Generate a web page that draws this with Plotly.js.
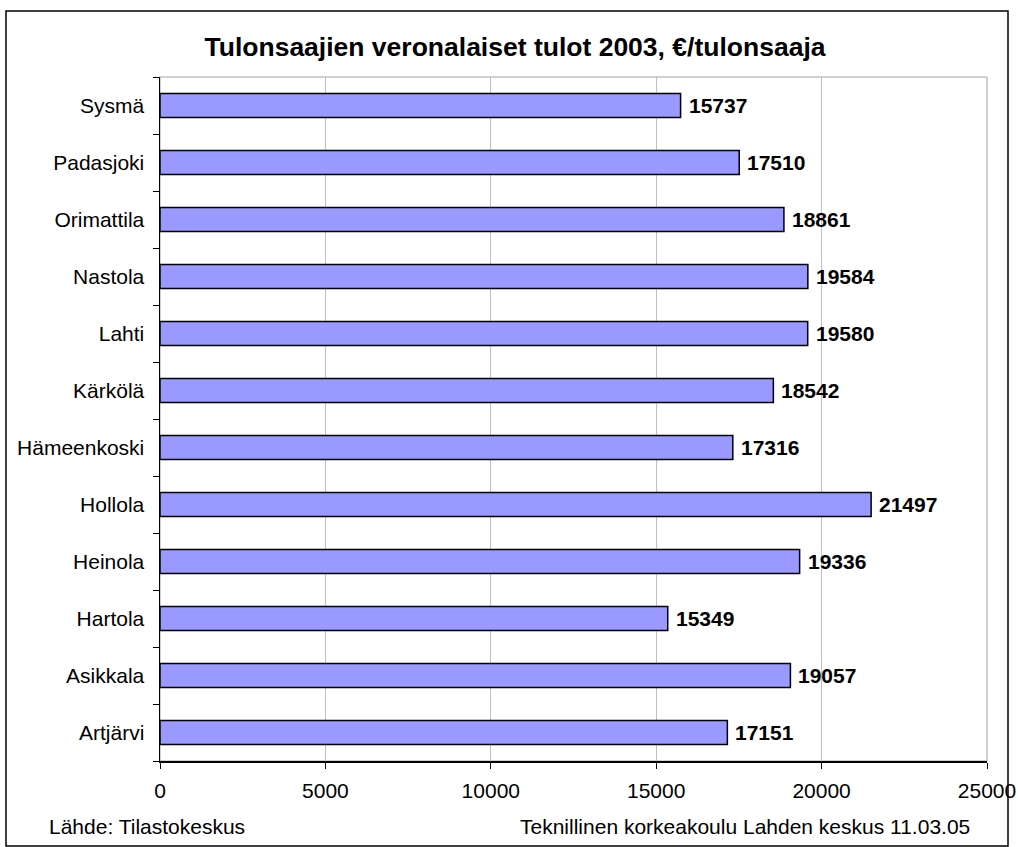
<!DOCTYPE html>
<html>
<head>
<meta charset="utf-8">
<script src="https://cdn.plot.ly/plotly-3.0.1.min.js"></script>
<style>html,body{margin:0;padding:0;background:#fff;}#chart{width:1018px;height:847px;}</style>
</head>
<body>
<div id="chart"></div>
<script>
const categories = ["Artjärvi","Asikkala","Hartola","Heinola","Hollola","Hämeenkoski","Kärkölä","Lahti","Nastola","Orimattila","Padasjoki","Sysmä"];
const values = [17151,19057,15349,19336,21497,17316,18542,19580,19584,18861,17510,15737];
const xTicks = [0,5000,10000,15000,20000,25000];

const FONT = "Liberation Sans, Arial, sans-serif";

const trace = {
  type: "bar",
  orientation: "h",
  y: categories,
  x: values,
  marker: {color: "#9999FF", line: {color: "#000000", width: 1.5}},
  hoverinfo: "none"
};

const labelAnns = categories.map((c, i) => ({
  x: values[i], y: c, xref: "x", yref: "y",
  text: "<b>" + values[i] + "</b>", showarrow: false,
  xanchor: "left", yanchor: "middle", xshift: 6,
  font: {family: FONT, size: 21, color: "#000"}
}));

const layout = {
  width: 1018, height: 847,
  margin: {l: 160, r: 31, t: 77, b: 86},
  paper_bgcolor: "#fff", plot_bgcolor: "#fff",
  showlegend: false,
  bargap: 0.58,
  font: {family: FONT, size: 21, color: "#000"},
  title: {
    text: "<b>Tulonsaajien veronalaiset tulot 2003, €/tulonsaaja</b>",
    font: {family: FONT, size: 26.5, color: "#000"},
    x: 515/1018, xanchor: "center", xref: "container",
    y: 1 - 47/847, yanchor: "middle"
  },
  xaxis: {
    range: [0, 25000], tickvals: xTicks, ticktext: xTicks.map(String),
    showgrid: true, gridcolor: "#c0c0c0", gridwidth: 1,
    showline: true, linecolor: "#000", linewidth: 1.5,
    ticks: "outside", ticklen: 6, tickcolor: "#000", tickwidth: 1,
    ticklabelstandoff: 4,
    zeroline: false, fixedrange: true,
    tickfont: {family: FONT, size: 21, color: "#000"}
  },
  yaxis: {
    type: "category", categoryorder: "array", categoryarray: categories,
    showline: true, linecolor: "#000", linewidth: 1.5,
    ticks: "outside", ticklen: 6, tickcolor: "#000", tickwidth: 1,
    tickson: "boundaries", showgrid: false, fixedrange: true,
    ticklabelstandoff: 10,
    tickfont: {family: FONT, size: 21, color: "#000"}
  },
  shapes: [
    {type: "rect", xref: "paper", yref: "paper", x0: 0, x1: 1, y0: 0, y1: 1,
     line: {color: "#a0a0a0", width: 1}, layer: "below"},
    {type: "rect", xref: "paper", yref: "paper",
     x0: (6-160)/827, x1: (1008-160)/827, y0: (761-846)/684, y1: (761-11)/684,
     line: {color: "#000", width: 1.5}, fillcolor: "rgba(0,0,0,0)"}
  ],
  annotations: labelAnns.concat([
    {xref: "paper", yref: "paper", x: (47-160)/827, y: (761-826)/684,
     xanchor: "left", yanchor: "middle", showarrow: false,
     text: "Lähde: Tilastokeskus", font: {family: FONT, size: 21, color: "#000"}},
    {xref: "paper", yref: "paper", x: (972-160)/827, y: (761-826)/684,
     xanchor: "right", yanchor: "middle", showarrow: false,
     text: "Teknillinen korkeakoulu Lahden keskus 11.03.05", font: {family: FONT, size: 21, color: "#000"}}
  ])
};

Plotly.newPlot("chart", [trace], layout, {displayModeBar: false, staticPlot: true});
</script>
</body>
</html>
